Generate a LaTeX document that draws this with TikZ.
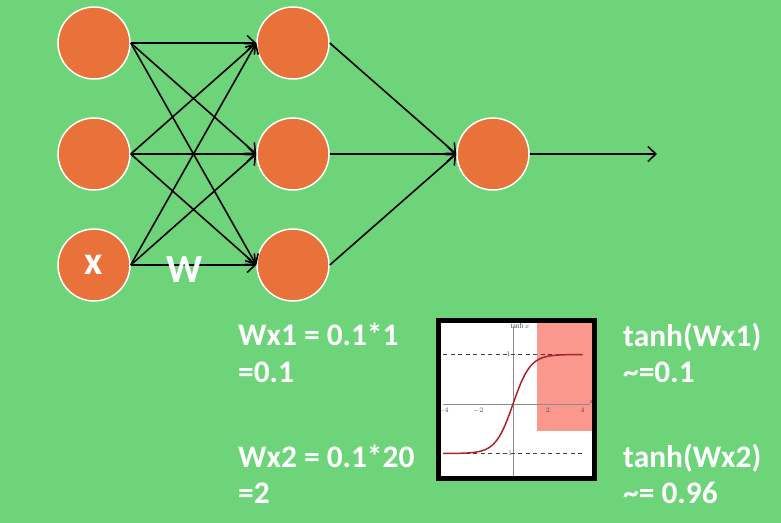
\documentclass[tikz,border=0pt]{standalone}
\usepackage{fontspec}
\setmainfont{Carlito}
\newfontfamily\graphfont{Liberation Serif}
\usepackage{tikz}
\usepackage{xcolor}
\usetikzlibrary{arrows.meta}
\definecolor{fondVert}{RGB}{110,212,122}
\definecolor{orangeNeurone}{RGB}{232,114,58}
\definecolor{roseZone}{RGB}{251,152,142}
\definecolor{rougeCourbe}{RGB}{168,38,44}
\tikzset{
Neurone/.style={
 circle, 
 fill=orangeNeurone, 
 draw=white, 
 line width=1.5bp, 
 minimum size=72bp, 
 inner sep=0pt
 },
Fleche/.style={
 draw=black, 
 line width=1.6bp, 
 -{Straight Barb[length=8bp,width=15bp,line width=1.6bp]}
 },
Texte/.style={
 text=white, 
 font=\bfseries\fontsize{31.5}{36}\selectfont, 
 anchor=base west, 
 inner sep=0pt
 },
Lettre/.style={
 text=white, 
 font=\bfseries\fontsize{40}{42}\selectfont, 
 inner sep=0pt
 },
Graduation/.style={
 font=\graphfont\itshape\fontsize{7.5}{8}\selectfont, 
 text=black!70, 
 inner sep=1pt
 }
}
\begin{document}
\begin{tikzpicture}[x=1bp,y=-1bp]
\useasboundingbox (0,0) rectangle (781,523);
\fill[fondVert] (0,0) rectangle (781,523);
% reseau
\node[Neurone] (e1) at (94,43) {};
\node[Neurone] (e2) at (94,154) {};
\node[Neurone] (e3) at (94,265) {};
\node[Neurone] (c1) at (293,43) {};
\node[Neurone] (c2) at (293,154) {};
\node[Neurone] (c3) at (293,265) {};
\node[Neurone] (s) at (493,154) {};
\coordinate (fin) at (657,154);
\draw[Fleche] (e1.east) -- (c1.west);
\draw[Fleche] (e1.east) -- (c2.west);
\draw[Fleche] (e1.east) -- (c3.west);
\draw[Fleche] (e2.east) -- (c1.west);
\draw[Fleche] (e2.east) -- (c2.west);
\draw[Fleche] (e2.east) -- (c3.west);
\draw[Fleche] (e3.east) -- (c1.west);
\draw[Fleche] (e3.east) -- (c2.west);
\draw[Fleche] (e3.east) -- (c3.west);
\draw[Fleche] (c1.east) -- (s.west);
\draw[Fleche] (c2.east) -- (s.west);
\draw[Fleche] (c3.east) -- (s.west);
\draw[Fleche] (s.east) -- (fin);
\node[Lettre] (lx) at (e3) {x};
\node[Lettre] (lw) at (185,270) {W};
% calculs
\node[Texte] (g1) at (238,345) {Wx1 = 0.1*1};
\node[Texte] (g2) at (238,382) {=0.1};
\node[Texte] (g3) at (238,467) {Wx2 = 0.1*20};
\node[Texte] (g4) at (238,503) {=2};
\node[Texte] (d1) at (623,346) {tanh(Wx1)};
\node[Texte] (d2) at (623,382) {\textasciitilde=0.1};
\node[Texte] (d3) at (623,467) {tanh(Wx2)};
\node[Texte] (d4) at (623,503) {\textasciitilde= 0.96};
% courbe tanh
\fill[white] (438,320) rectangle (595,479);
\fill[roseZone] (537,322) rectangle (593,431);
\begin{scope}[shift={(513,404)},x=17.4bp,y=49.5bp]
\draw[black!45, line width=0.6bp] (-4,0) -- (4.4,0);
\draw[black!45, line width=0.6bp] (0,-1.5) -- (0,1.55);
\draw[black!75, line width=0.9bp, dash pattern=on 4bp off 3.5bp] (-4,1) -- (4,1);
\draw[black!75, line width=0.9bp, dash pattern=on 4bp off 3.5bp] (-4,-1) -- (4,-1);
\draw[rougeCourbe, line width=1.5bp, domain=-4:4, samples=100, smooth] plot (\x,{tanh(\x)});
\node[Graduation] (t1) at (-4,-0.13) {$-4$};
\node[Graduation] (t2) at (-2,-0.13) {$-2$};
\node[Graduation] (t3) at (2,-0.13) {$2$};
\node[Graduation] (t4) at (4,-0.13) {$4$};
\node[Graduation] (tx) at (4.5,0.05) {$x$};
\node[Graduation] (ty1) at (-0.25,1) {$1$};
\node[Graduation] (ty2) at (-0.35,-1) {$-1$};
\node[Graduation, font=\graphfont\fontsize{7.5}{8}\selectfont] (tt) at (0.4,1.57) {tanh$\,x$};
\end{scope}
\draw[black, line width=4.5bp] (438.5,320.5) rectangle (594.5,478.5);
\end{tikzpicture}
\end{document}
